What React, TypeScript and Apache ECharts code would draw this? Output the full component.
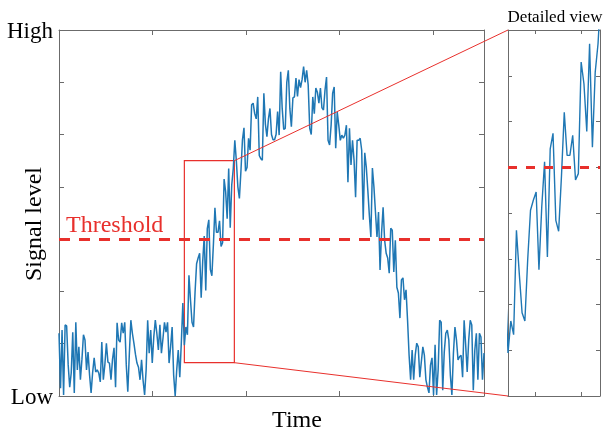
import React, { useEffect, useRef } from 'react';
import * as echarts from 'echarts';

// Signal samples (value units: Low = 0 … High = 7)
const quietStart = [
  1.20, 0.15, 1.26, 0.02, 1.36, 1.34, 0.60, 0.17, 0.44, 1.22, 0.06, 1.41, 0.50, 0.94, 0.31, 0.70,
  1.17, 1.07, 0.50, 0.84, 0.40, 0.06, 0.45, 0.73, 0.46, 0.50, 0.44, 0.27, 1.03, 0.31, 0.60, 1.01,
  0.65, 0.63, 0.31, 0.70, 0.92, 0.17, 1.40, 1.07, 1.03, 1.40, 1.20, 1.41, 0.60, 0.08, 0.80, 1.45,
  1.20, 1.01, 0.80, 0.63, 0.55, 0.31, 0.69, 0.30, 0.02,
  0.50, 1.45, 0.82, 1.26, 0.63, 1.13, 1.45, 1.20, 0.88, 1.36, 0.82, 1.10, 1.41, 1.22, 1.41, 0.63,
  0.94, 1.32, 0.40, 0.00, 0.50, 0.88, 0.36, 1.01, 1.78,
];
const rise = [
  0.97, 1.32, 1.17, 2.31, 1.84, 1.41, 1.32, 1.99, 2.53, 2.64, 2.73, 1.88, 2.57, 3.06, 2.02, 3.20,
  3.37, 2.42, 2.30, 2.90, 3.60, 3.13, 3.13, 3.35, 2.86, 2.93, 4.15, 3.91, 3.39, 4.35, 3.22, 4.04, 4.35,
];
const plateau = [
  4.89, 4.50, 4.00, 3.78, 4.30, 4.90, 5.13, 4.30, 4.37, 4.93, 4.70, 5.57, 5.60, 5.40, 5.30, 5.72,
  4.60, 4.54, 4.51, 5.79, 5.20, 4.96, 5.30, 5.50, 5.00, 4.90, 4.90, 5.00, 5.44, 4.99, 6.20, 5.50,
  5.10, 5.12, 6.00, 6.23, 5.50, 5.15, 5.70, 5.72, 6.08, 5.73, 6.05, 5.90, 6.05, 6.30, 6.00, 6.23,
  5.95, 5.12, 5.00, 5.72, 5.40, 5.89,
];
const fall = [
  5.81, 5.60, 5.89, 5.51, 5.47, 5.85, 6.10, 4.89, 4.80, 5.18, 5.79, 5.91, 4.74, 5.43, 5.18, 4.89,
  4.99, 4.93, 4.99, 5.18, 4.09, 5.12, 4.42, 4.89, 4.51, 3.80, 4.89, 4.89, 4.93, 4.70, 3.37, 4.65,
  4.38, 3.94, 3.46, 3.04, 4.36, 4.00, 3.52, 3.04, 3.52, 2.41, 3.12, 3.61, 2.98, 2.73, 2.64, 2.35,
  3.21, 3.17, 2.37, 2.98, 2.08, 1.97, 1.49,
];
const quietEnd = [
  2.22, 2.26, 1.84, 2.03, 1.45, 0.78, 0.31, 0.88, 0.31, 0.78, 1.01, 0.94, 0.36, 0.65, 0.94, 0.78,
  0.31, 0.17, 0.06, 0.59, 0.73, 0.02, 0.98, 0.02, 0.50, 1.45, 1.41, 0.11, 0.84, 1.20, 1.26, 1.07,
  0.40, 0.02, 0.82, 1.32, 1.07, 0.69, 0.75, 0.78, 0.36, 1.45, 0.98, 0.46, 1.07, 1.45, 1.36, 0.11,
  0.88, 1.20, 0.31, 1.20, 1.13, 0.31, 0.82,
];
const signal = [...quietStart, ...rise, ...plateau, ...fall, ...quietEnd];

const threshold = 3;
const yRange = [0, 7];
const yLabelLow = 'Low';
const yLabelHigh = 'High';
const zoomX = [82, 114.7];
const rectY = [0.637, 4.5];
const zoomY = [0.5, 4.5];
const zoomYStep = 0.5;
const mainXTicks = [0, 61.2, 122.4, 183.6, 244.8];
const zoomXTicks = [91.75, 108.2];

export default function App() {
  const ref = useRef<HTMLDivElement>(null);
  useEffect(() => {
    const chart = echarts.init(ref.current!, null, { renderer: 'svg' });
    const font = 'Liberation Serif';
    const axisColor = '#6b6b6b';
    const red = '#e8302c';
    const blue = '#1f77b4';
    const n = signal.length - 1;
    const data = signal.map((v, i) => [i, v]);

    const line = { show: true, onZero: false, lineStyle: { color: axisColor, width: 1 } };
    const tick = (len: number, custom?: number[]) => ({
      show: true,
      inside: true,
      length: len,
      lineStyle: { color: axisColor, width: 1 },
      ...(custom ? { customValues: custom } : {}),
    });
    const hidden = { show: false };
    const noSplit = { show: false };

    const mainX = { type: 'value', gridIndex: 0, min: 0, max: n, axisLine: line, axisLabel: hidden, splitLine: noSplit };
    const zoomXAxis = { type: 'value', gridIndex: 1, min: zoomX[0], max: zoomX[1], axisLine: line, axisLabel: hidden, splitLine: noSplit };
    const mainY = { type: 'value', gridIndex: 0, min: yRange[0], max: yRange[1], interval: 1, axisLine: line, splitLine: noSplit };
    const zoomYAxis = { type: 'value', gridIndex: 1, min: zoomY[0], max: zoomY[1], interval: zoomYStep, axisLine: line, axisLabel: hidden, splitLine: noSplit };

    const thresholdLine = (width: number, dash: number[]) => ({
      silent: true,
      symbol: ['none', 'none'],
      label: { show: false },
      lineStyle: { color: red, width, type: dash },
      data: [{ yAxis: threshold }],
    });

    chart.setOption({
      animation: false,
      grid: [
        { left: 59, top: 30, right: 119, bottom: 36 },
        { left: 508, top: 30, right: 3, bottom: 36 },
      ],
      xAxis: [
        { ...mainX, position: 'bottom', axisTick: tick(5, mainXTicks) },
        { ...mainX, position: 'top', axisTick: tick(5, mainXTicks) },
        { ...zoomXAxis, position: 'bottom', axisTick: tick(4, zoomXTicks) },
        { ...zoomXAxis, position: 'top', axisTick: tick(4, zoomXTicks) },
      ],
      yAxis: [
        {
          ...mainY,
          position: 'left',
          axisTick: tick(5),
          axisLabel: {
            show: true,
            margin: 6,
            color: '#000',
            fontFamily: font,
            fontSize: 23,
            formatter: (v: number) => (v === yRange[1] ? yLabelHigh : v === yRange[0] ? yLabelLow : ''),
          },
        },
        { ...mainY, position: 'right', axisTick: tick(5), axisLabel: hidden },
        { ...zoomYAxis, position: 'left', axisTick: tick(4) },
        { ...zoomYAxis, position: 'right', axisTick: tick(4) },
      ],
      series: [
        {
          type: 'line',
          xAxisIndex: 0,
          yAxisIndex: 0,
          data,
          symbol: 'none',
          lineStyle: { color: blue, width: 1.5 },
          markLine: thresholdLine(3, [11, 9]),
          markArea: {
            silent: true,
            itemStyle: { color: 'rgba(0,0,0,0)', borderColor: red, borderWidth: 1.2 },
            data: [[{ coord: [zoomX[0], rectY[1]] }, { coord: [zoomX[1], rectY[0]] }]],
          },
        },
        {
          type: 'line',
          xAxisIndex: 2,
          yAxisIndex: 2,
          data,
          symbol: 'none',
          clip: true,
          lineStyle: { color: blue, width: 1.4 },
          markLine: thresholdLine(3, [9, 9]),
        },
      ],
    });

    const p1 = chart.convertToPixel({ xAxisIndex: 0, yAxisIndex: 0 }, [zoomX[1], rectY[1]]) as number[];
    const p2 = chart.convertToPixel({ xAxisIndex: 0, yAxisIndex: 0 }, [zoomX[1], rectY[0]]) as number[];
    const q1 = chart.convertToPixel({ xAxisIndex: 2, yAxisIndex: 2 }, [zoomX[0], zoomY[1]]) as number[];
    const q2 = chart.convertToPixel({ xAxisIndex: 2, yAxisIndex: 2 }, [zoomX[0], zoomY[0]]) as number[];
    const thr = chart.convertToPixel({ xAxisIndex: 0, yAxisIndex: 0 }, [0, threshold]) as number[];

    chart.setOption({
      graphic: [
        { type: 'line', silent: true, z: 10, shape: { x1: p1[0], y1: p1[1], x2: q1[0], y2: q1[1] }, style: { stroke: red, lineWidth: 1 } },
        { type: 'line', silent: true, z: 10, shape: { x1: p2[0], y1: p2[1], x2: q2[0], y2: q2[1] }, style: { stroke: red, lineWidth: 1 } },
        {
          type: 'text', left: 66, top: thr[1] - 27, z: 10,
          style: { text: 'Threshold', fill: red, font: `24px "${font}"` },
        },
        {
          type: 'text', x: 33, y: 224, rotation: Math.PI / 2, z: 10,
          style: { text: 'Signal level', fill: '#000', font: `24px "${font}"`, align: 'center', verticalAlign: 'middle' },
        },
        {
          type: 'text', x: 297, y: 419, z: 10,
          style: { text: 'Time', fill: '#000', font: `24px "${font}"`, align: 'center', verticalAlign: 'middle' },
        },
        {
          type: 'text', x: 555, y: 16, z: 10,
          style: { text: 'Detailed view', fill: '#000', font: `17px "${font}"`, align: 'center', verticalAlign: 'middle' },
        },
      ],
    });

    return () => chart.dispose();
  }, []);
  return <div ref={ref} style={{ position: 'fixed', left: 0, top: 0, width: 603, height: 432 }} />;
}
